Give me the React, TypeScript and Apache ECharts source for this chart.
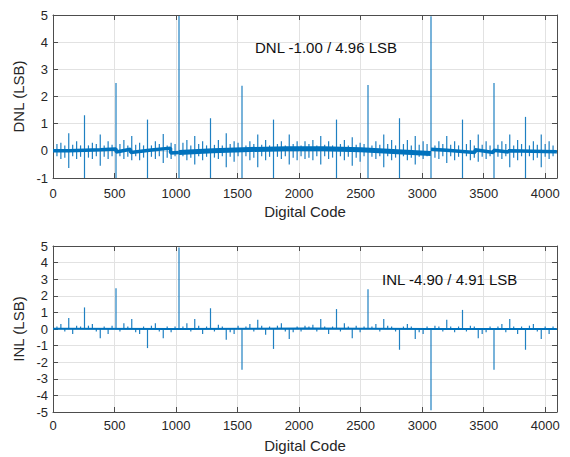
import React, { useEffect, useRef } from "react";
import * as echarts from "echarts";

// ---- data ----
const spikeCodes = [
  32, 64, 96, 128, 160, 192, 224, 256,
  288, 320, 352, 384, 416, 448, 480, 512,
  544, 576, 608, 640, 672, 704, 736, 768,
  800, 832, 864, 896, 928, 960, 992, 1024,
  1056, 1088, 1120, 1152, 1184, 1216, 1248, 1280,
  1312, 1344, 1376, 1408, 1440, 1472, 1504, 1536,
  1568, 1600, 1632, 1664, 1696, 1728, 1760, 1792,
  1824, 1856, 1888, 1920, 1952, 1984, 2016, 2048,
  2080, 2112, 2144, 2176, 2208, 2240, 2272, 2304,
  2336, 2368, 2400, 2432, 2464, 2496, 2528, 2560,
  2592, 2624, 2656, 2688, 2720, 2752, 2784, 2816,
  2848, 2880, 2912, 2944, 2976, 3008, 3040, 3072,
  3104, 3136, 3168, 3200, 3232, 3264, 3296, 3328,
  3360, 3392, 3424, 3456, 3488, 3520, 3552, 3584,
  3616, 3648, 3680, 3712, 3744, 3776, 3808, 3840,
  3872, 3904, 3936, 3968, 4000, 4032, 4064,
];

const dnlSpikeHigh = [
  0.25, 0.3, 0.2, 0.65, 0.22, 0.35, 0.2, 1.31,
  0.2, 0.3, 0.25, 0.6, 0.2, 0.35, 0.22, 2.5,
  0.25, 0.4, 0.2, 0.55, 0.22, 0.3, 0.2, 1.15,
  0.2, 0.35, 0.25, 0.62, 0.2, 0.3, 0.25, 4.96,
  0.3, 0.4, 0.2, 0.55, 0.25, 0.35, 0.2, 1.2,
  0.22, 0.4, 0.2, 0.65, 0.25, 0.35, 0.3, 2.4,
  0.2, 0.35, 0.25, 0.6, 0.22, 0.4, 0.2, 1.15,
  0.25, 0.35, 0.2, 0.6, 0.25, 0.35, 0.2, 0.35,
  0.25, 0.4, 0.2, 0.55, 0.22, 0.35, 0.2, 1.15,
  0.25, 0.4, 0.2, 0.5, 0.22, 0.3, 0.25, 2.42,
  0.2, 0.35, 0.22, 0.6, 0.25, 0.4, 0.2, 1.2,
  0.25, 0.4, 0.2, 0.55, 0.22, 0.35, 0.25, 4.95,
  0.2, 0.35, 0.25, 0.55, 0.22, 0.35, 0.2, 1.15,
  0.25, 0.4, 0.2, 0.6, 0.22, 0.35, 0.2, 2.5,
  0.22, 0.35, 0.25, 0.6, 0.2, 0.4, 0.25, 1.25,
  0.2, 0.35, 0.22, 0.6, 0.25, 0.35, 0.2,
];

const dnlSpikeLow = [
  -0.2, -0.3, -0.25, -0.63, -0.2, -0.3, -0.22, -1,
  -0.25, -0.3, -0.2, -0.55, -0.22, -0.3, -0.2, -1,
  -0.2, -0.3, -0.22, -0.35, -0.2, -0.35, -0.25, -1,
  -0.22, -0.3, -0.2, -0.45, -0.25, -0.3, -0.2, -1,
  -0.2, -0.35, -0.25, -0.5, -0.2, -0.35, -0.22, -1,
  -0.25, -0.3, -0.2, -0.6, -0.22, -0.4, -0.2, -1,
  -0.2, -0.35, -0.25, -0.6, -0.2, -0.35, -0.22, -1,
  -0.22, -0.3, -0.2, -0.5, -0.25, -0.35, -0.2, -0.3,
  -0.25, -0.35, -0.2, -0.5, -0.2, -0.3, -0.25, -1,
  -0.2, -0.35, -0.22, -0.55, -0.25, -0.4, -0.2, -1,
  -0.22, -0.3, -0.2, -0.6, -0.2, -0.35, -0.25, -1,
  -0.2, -0.35, -0.25, -0.5, -0.22, -0.3, -0.2, -1,
  -0.25, -0.3, -0.2, -0.45, -0.2, -0.35, -0.22, -1,
  -0.2, -0.35, -0.25, -0.4, -0.22, -0.3, -0.2, -1,
  -0.22, -0.3, -0.2, -0.6, -0.25, -0.35, -0.2, -1,
  -0.2, -0.35, -0.25, -0.6, -0.22, -0.3, -0.2,
];

const inlSpikeValues = [
  0.15, 0.3, -0.15, 0.66, -0.3, 0.2, 0.15, 1.3,
  0.2, 0.3, -0.15, -0.55, 0.15, -0.3, 0.2, 2.45,
  -0.15, 0.35, 0.15, 0.6, -0.2, -0.3, 0.15, -1.15,
  0.2, 0.35, -0.15, -0.55, 0.15, -0.2, 0.15, 4.91,
  0.15, 0.35, -0.15, 0.6, 0.2, -0.3, 0.15, 1.25,
  -0.15, 0.25, 0.15, -0.65, -0.2, -0.3, 0.2, -2.45,
  0.15, 0.3, -0.15, 0.55, 0.2, -0.35, 0.15, -1.2,
  0.2, 0.35, -0.15, -0.6, -0.2, 0.15, -0.15, 0.2,
  0.15, 0.25, -0.15, 0.6, 0.15, -0.3, 0.15, 1.2,
  -0.15, 0.35, 0.15, -0.55, 0.2, -0.2, 0.15, 2.4,
  0.15, 0.3, -0.15, 0.6, 0.2, 0.15, -0.15, -1.25,
  0.15, 0.3, 0.15, -0.6, -0.2, -0.3, 0.15, -4.9,
  0.2, 0.15, -0.15, 0.55, 0.15, -0.2, 0.15, 1.15,
  -0.15, 0.2, 0.15, -0.55, -0.3, -0.2, 0.15, -2.45,
  0.15, 0.3, -0.2, 0.6, 0.15, -0.3, 0.15, -1.25,
  0.2, 0.3, -0.15, -0.6, 0.15, -0.3, 0.15,
];

// DNL baseline band (three pieces)
const dnlLeftCodes = [0, 128, 256, 384, 512, 513, 630, 631, 800, 955, 956, 1023];
const dnlLeftValues = [0.0, 0.0, 0.02, 0.04, 0.07, -0.04, 0.06, -0.06, 0.03, 0.1, -0.08, -0.06];
const dnlMidCodes = [1024, 1300, 1600, 1900, 2200, 2500, 2800, 3071];
const dnlMidValues = [-0.06, 0.0, 0.05, 0.08, 0.08, 0.04, -0.03, -0.1];
const dnlRightCodes = [3072, 3200, 3430, 3431, 3580, 3581, 3700, 3701, 4095];
const dnlRightValues = [0.06, 0.02, -0.06, 0.04, -0.06, 0.02, -0.04, 0.0, -0.03];

// INL baseline
const inlBaseCodes = [0, 1024, 2048, 3072, 4095];
const inlBaseValues = [0.02, 0.0, 0.03, 0.0, 0.0];

const xTickLabels = ["0", "500", "1000", "1500", "2000", "2500", "3000", "3500", "4000"];

const dnlText = "DNL -1.00 / 4.96 LSB";
const inlText = "INL -4.90 / 4.91 LSB";

// ---- styling ----
const FONT = "'Liberation Sans', Arial, Helvetica, sans-serif";
const TEXT = "#262626";
const AXIS = "#4d4d4d";
const GRIDC = "#e2e2e2";
const BLUE = "#0072BD";
const SPIKE = "#1f80c2";

function zip(a: number[], b: number[]) {
  return a.map((v, i) => [v, b[i]]);
}

export default function App() {
  const ref = useRef<HTMLDivElement>(null);

  useEffect(() => {
    if (!ref.current) return;
    const chart = echarts.init(ref.current, undefined, { renderer: "svg" });

    const xMain = (gridIndex: number, margin: number) => ({
      type: "value",
      gridIndex,
      min: 0,
      max: 4096,
      interval: 500,
      position: "bottom",
      name: "Digital Code",
      nameLocation: "middle",
      nameGap: 26,
      nameTextStyle: { fontSize: 15, color: TEXT, fontFamily: FONT },
      axisLine: { show: true, onZero: false, lineStyle: { color: AXIS, width: 1 } },
      axisTick: { show: true, inside: true, length: 5, lineStyle: { color: AXIS } },
      axisLabel: {
        color: TEXT,
        fontSize: 13,
        fontFamily: FONT,
        margin,
        showMaxLabel: false,
        formatter: (v: number) => {
          const i = v / 500;
          return Number.isInteger(i) && xTickLabels[i] !== undefined ? xTickLabels[i] : "";
        },
      },
      splitLine: { show: true, lineStyle: { color: GRIDC, width: 1 } },
    });
    const xTop = (gridIndex: number) => ({
      type: "value",
      gridIndex,
      min: 0,
      max: 4096,
      interval: 500,
      position: "top",
      axisLine: { show: true, onZero: false, lineStyle: { color: AXIS, width: 1 } },
      axisTick: { show: true, inside: true, length: 5, lineStyle: { color: AXIS } },
      axisLabel: { show: false },
      splitLine: { show: false },
    });
    const yMain = (gridIndex: number, min: number, max: number, name: string) => ({
      type: "value",
      gridIndex,
      min,
      max,
      interval: 1,
      position: "left",
      name,
      nameLocation: "middle",
      nameGap: 15,
      nameTextStyle: { fontSize: 15, color: TEXT, fontFamily: FONT },
      axisLine: { show: true, onZero: false, lineStyle: { color: AXIS, width: 1 } },
      axisTick: { show: true, inside: true, length: 5, lineStyle: { color: AXIS } },
      axisLabel: { color: TEXT, fontSize: 13, fontFamily: FONT, margin: 5 },
      splitLine: { show: true, lineStyle: { color: GRIDC, width: 1 } },
    });
    const yRight = (gridIndex: number, min: number, max: number) => ({
      type: "value",
      gridIndex,
      min,
      max,
      interval: 1,
      position: "right",
      axisLine: { show: true, onZero: false, lineStyle: { color: AXIS, width: 1 } },
      axisTick: { show: true, inside: true, length: 5, lineStyle: { color: AXIS } },
      axisLabel: { show: false },
      splitLine: { show: false },
    });

    const spikeRender = (params: any, api: any) => {
      const x = api.value(0);
      const p1 = api.coord([x, api.value(1)]);
      const p2 = api.coord([x, api.value(2)]);
      return {
        type: "line",
        shape: { x1: p1[0], y1: p1[1], x2: p2[0], y2: p2[1] },
        style: { stroke: SPIKE, lineWidth: 1.2 },
      };
    };

    const dnlSpikeData = spikeCodes.map((c, i) => [c, dnlSpikeHigh[i], dnlSpikeLow[i]]);
    const inlSpikeData = spikeCodes.map((c, i) => [c, 0, inlSpikeValues[i]]);

    const bandLine = (data: number[][], width: number, xi: number, yi: number) => ({
      type: "line",
      xAxisIndex: xi,
      yAxisIndex: yi,
      data,
      showSymbol: false,
      symbol: "none",
      lineStyle: { color: BLUE, width },
      z: 3,
    });

    chart.setOption({
      animation: false,
      backgroundColor: "#ffffff",
      grid: [
        { left: 53, top: 15, width: 504, height: 163, containLabel: false },
        { left: 53, top: 246, width: 504, height: 166, containLabel: false },
      ],
      xAxis: [xMain(0, 9), xTop(0), xMain(1, 7), xTop(1)],
      yAxis: [
        yMain(0, -1, 5, "DNL (LSB)"),
        yRight(0, -1, 5),
        yMain(1, -5, 5, "INL (LSB)"),
        yRight(1, -5, 5),
      ],
      series: [
        {
          type: "custom",
          xAxisIndex: 0,
          yAxisIndex: 0,
          renderItem: spikeRender,
          encode: { x: 0, y: [1, 2] },
          data: dnlSpikeData,
          z: 2,
        },
        bandLine(zip(dnlLeftCodes, dnlLeftValues), 3.5, 0, 0),
        bandLine(zip(dnlMidCodes, dnlMidValues), 5, 0, 0),
        bandLine(zip(dnlRightCodes, dnlRightValues), 3.5, 0, 0),
        {
          type: "custom",
          xAxisIndex: 2,
          yAxisIndex: 2,
          renderItem: spikeRender,
          encode: { x: 0, y: [1, 2] },
          data: inlSpikeData,
          z: 2,
        },
        bandLine(zip(inlBaseCodes, inlBaseValues), 2, 2, 2),
      ],
      graphic: [
        {
          type: "text",
          left: 255,
          top: 40,
          z: 100,
          style: { text: dnlText, fontSize: 15, fill: "#111111", fontFamily: FONT },
        },
        {
          type: "text",
          left: 382,
          top: 272,
          z: 100,
          style: { text: inlText, fontSize: 15, fill: "#111111", fontFamily: FONT },
        },
      ],
    });

    return () => chart.dispose();
  }, []);

  return (
    <div
      ref={ref}
      style={{ position: "fixed", left: 0, top: 0, width: 570, height: 457, background: "#fff" }}
    />
  );
}
